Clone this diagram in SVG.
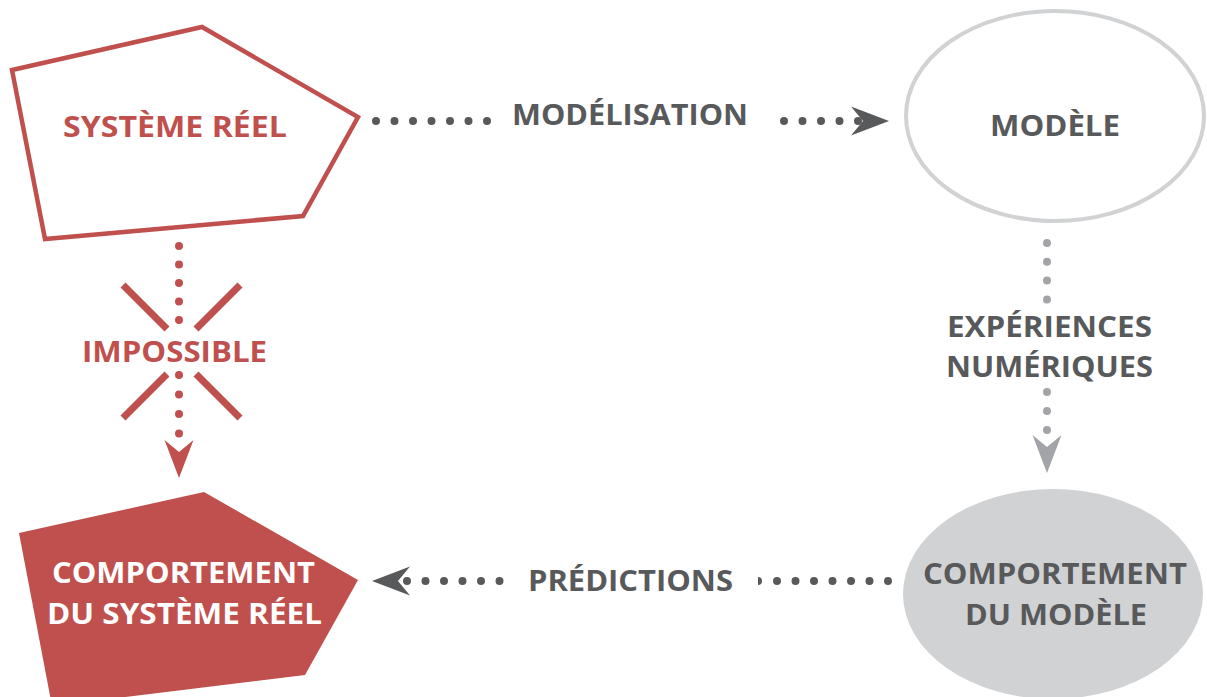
<svg xmlns="http://www.w3.org/2000/svg" xmlns:xlink="http://www.w3.org/1999/xlink" width="1207" height="697" viewBox="0 0 1207 697">
<style>
  .lbl { font-family: "Open Sans", "Noto Sans", "Liberation Sans", sans-serif; font-weight: 700; font-size: 29px; }
  .red { fill: #c0504d; }
  .dark { fill: #58595b; }
  .white { fill: #ffffff; }
  .dots { fill: none; stroke-width: 8; stroke-linecap: round; }
  .dots-dark { stroke: #58595b; stroke-dasharray: 0 18.5; }
  .dots-red { stroke: #c0504d; }
  .dots-grey { stroke: #a2a4a7; }
  .cross { stroke: #c0504d; stroke-width: 7; stroke-linecap: butt; fill: none; }
</style>
<defs>
  <path id="arrowhead" d="M0,0 L-38,-14.5 L-26,0 L-38,14.5 Z"/>
</defs>
<rect x="0" y="0" width="1207" height="697" fill="#ffffff"/>

<g id="systeme-reel">
  <polygon points="12,70 202,27 358,117 303,216 45,239" fill="#ffffff" stroke="#c0504d" stroke-width="4.5" stroke-linejoin="miter"/>
  <text class="lbl red" x="63" y="137" textLength="224" lengthAdjust="spacingAndGlyphs">SYSTÈME RÉEL</text>
</g>

<g id="modele">
  <ellipse cx="1055" cy="116" rx="149" ry="105" fill="#ffffff" stroke="#d1d2d4" stroke-width="4"/>
  <text class="lbl dark" x="990" y="136" textLength="130" lengthAdjust="spacingAndGlyphs">MODÈLE</text>
</g>

<g id="comportement-systeme-reel">
  <polygon points="19,533 204,492 358,580 305,675 52,706" fill="#c0504d"/>
  <text class="lbl white" x="52" y="583" textLength="263" lengthAdjust="spacingAndGlyphs">COMPORTEMENT</text>
  <text class="lbl white" x="47" y="624" textLength="275" lengthAdjust="spacingAndGlyphs">DU SYSTÈME RÉEL</text>
</g>

<g id="comportement-modele">
  <ellipse cx="1053" cy="594" rx="150" ry="105" fill="#d1d2d4"/>
  <text class="lbl dark" x="923" y="584" textLength="264" lengthAdjust="spacingAndGlyphs">COMPORTEMENT</text>
  <text class="lbl dark" x="965" y="625" textLength="182" lengthAdjust="spacingAndGlyphs">DU MODÈLE</text>
</g>

<g id="connectors">
  <g id="edge-modelisation">
    <use xlink:href="#arrowhead" fill="#58595b" transform="translate(889,121)"/>
    <path class="dots dots-dark" d="M376,121 L488,121"/>
    <path class="dots dots-dark" d="M784,121 L859,121"/>
    <text class="lbl dark" x="512" y="125" textLength="236" lengthAdjust="spacingAndGlyphs">MODÉLISATION</text>
  </g>
  <g id="edge-experiences">
    <use xlink:href="#arrowhead" fill="#a2a4a7" transform="translate(1047,473) rotate(90)"/>
    <path class="dots dots-grey" stroke-dasharray="0 18.8" d="M1047,243 L1047,300.5"/>
    <path class="dots dots-grey" stroke-dasharray="0 19" d="M1047,392 L1047,431"/>
    <text class="lbl dark" x="947" y="337" textLength="205" lengthAdjust="spacingAndGlyphs">EXPÉRIENCES</text>
    <text class="lbl dark" x="946" y="377" textLength="207" lengthAdjust="spacingAndGlyphs">NUMÉRIQUES</text>
  </g>
  <g id="edge-predictions">
    <use xlink:href="#arrowhead" fill="#58595b" transform="translate(372,581) rotate(180)"/>
    <path class="dots dots-dark" d="M777,581 L889,581"/>
    <path d="M758,577 A4,4 0 0 1 758,585 Z" fill="#58595b"/>
    <path class="dots dots-dark" d="M407,581 L501,581"/>
    <text class="lbl dark" x="528" y="591" textLength="205" lengthAdjust="spacingAndGlyphs">PRÉDICTIONS</text>
  </g>
  <g id="edge-impossible">
    <use xlink:href="#arrowhead" fill="#c0504d" transform="translate(179,478) rotate(90)"/>
    <path class="dots dots-red" stroke-dasharray="0 18.5" d="M179,246 L179,321"/>
    <path class="dots dots-red" stroke-dasharray="0 19.5" d="M179,375 L179,434.5"/>
    <path class="cross" d="M123,285 L167,329"/>
    <path class="cross" d="M240,285 L196,329"/>
    <path class="cross" d="M167,374 L123,418"/>
    <path class="cross" d="M196,374 L240,418"/>
    <text class="lbl red" x="82" y="362" textLength="185" lengthAdjust="spacingAndGlyphs">IMPOSSIBLE</text>
  </g>
</g>
</svg>
